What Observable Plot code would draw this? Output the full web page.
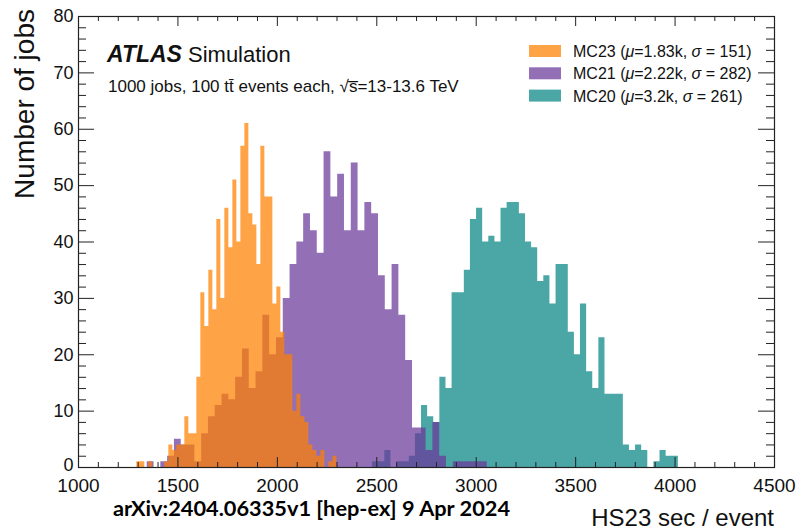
<!DOCTYPE html>
<html><head><meta charset="utf-8">
<script src="https://cdn.jsdelivr.net/npm/d3@7"></script>
<script src="https://cdn.jsdelivr.net/npm/@observablehq/plot@0.6"></script>
<style>html,body{margin:0;padding:0;background:#fff;}</style>
</head><body><div id="chart"></div>
<script>
// ---- data (counts per bin, 50 equal bins between the given edges) ----
const mc23Counts = [1,1,0,1,0,0,0,1,4,3,4,4,9,6,6,16,31,25,35,28,44,30,46,39,51,40,57,61,45,43,36,57,48,48,29,32,24,20,20,10,13,9,8,4,3,2,3,0,1,2];
const mc23Edges = [1293.3, 2299.3];
const mc21Counts = [1,0,1,2,5,4,4,1,6,9,11,13,12,16,21,14,17,27,20,23,30,36,40,45,42,38,56,48,52,42,54,42,47,45,34,28,36,27,19,7,7,3,8,2,0,1,1,1,1,1];
const mc21Edges = [1345.6, 3055.8];
const mc20Counts = [1,1,3,0,1,1,2,6,11,9,8,16,14,31,31,35,44,46,40,41,40,46,47,47,45,40,39,33,34,29,36,36,24,20,29,17,14,23,13,13,13,4,3,4,3,0,1,3,2,2];
const mc20Edges = [2478.9, 4016.6];

const seriesNames = ["MC23", "MC21", "MC20"];
const seriesMu = ["1.83k", "2.22k", "3.2k"];
const seriesSigma = ["151", "282", "261"];

const xMajor = [1000,1500,2000,2500,3000,3500,4000,4500];
const yMajor = [0,10,20,30,40,50,60,70,80];
const xMinor = d3.range(1000, 4501, 100).filter(v => v % 500 !== 0);
const yMinor = d3.range(0, 81, 2).filter(v => v % 10 !== 0);

// ---- styles ----
const colors = {MC23: "rgb(255,128,0)", MC21: "rgb(105,56,154)", MC20: "rgb(6,131,131)"};
const alpha = 0.72;
const W = 799, H = 530, mL = 78, mR = 25, mT = 16, mB = 63;
const fw = W - mL - mR, fh = H - mT - mB;
const axisColor = "#222";

function stepData(counts, edges) {
  const [lo, hi] = edges;
  const w = (hi - lo) / counts.length;
  const pts = counts.map((c, i) => ({x: lo + i * w, y: c}));
  pts.push({x: hi, y: counts[counts.length - 1]});
  return pts;
}

const svg = Plot.plot({
  width: W, height: H,
  marginLeft: mL, marginRight: mR, marginTop: mT, marginBottom: mB,
  x: {domain: [1000, 4500]},
  y: {domain: [0, 80]},
  style: {fontFamily: "'Liberation Sans', Arimo, Helvetica, Arial, sans-serif", fontSize: "19px", color: "#111", background: "#fff"},
  marks: [
    Plot.areaY(stepData(mc20Counts, mc20Edges), {x: "x", y: "y", curve: "step-after", fill: colors.MC20, fillOpacity: alpha}),
    Plot.areaY(stepData(mc21Counts, mc21Edges), {x: "x", y: "y", curve: "step-after", fill: colors.MC21, fillOpacity: alpha}),
    Plot.areaY(stepData(mc23Counts, mc23Edges), {x: "x", y: "y", curve: "step-after", fill: colors.MC23, fillOpacity: alpha}),
    // inward ticks, ROOT style, on all four sides
    Plot.ruleX(xMajor, {x: d => d, insetTop: fh - 10, stroke: axisColor}),
    Plot.ruleX(xMinor, {x: d => d, insetTop: fh - 5, stroke: axisColor}),
    Plot.ruleX(xMajor, {x: d => d, insetBottom: fh - 10, stroke: axisColor}),
    Plot.ruleX(xMinor, {x: d => d, insetBottom: fh - 5, stroke: axisColor}),
    Plot.ruleY(yMajor, {y: d => d, insetRight: fw - 16, stroke: axisColor}),
    Plot.ruleY(yMinor, {y: d => d, insetRight: fw - 8, stroke: axisColor}),
    Plot.ruleY(yMajor, {y: d => d, insetLeft: fw - 16, stroke: axisColor}),
    Plot.ruleY(yMinor, {y: d => d, insetLeft: fw - 8, stroke: axisColor}),
    Plot.frame({stroke: axisColor, strokeWidth: 1.2}),
    Plot.axisX({ticks: xMajor, tickSize: 0, tickPadding: 11, tickFormat: d => String(d), label: null}),
    Plot.axisY({ticks: yMajor.filter(d => d !== 0), tickSize: 0, tickPadding: 5, fontSize: 18, tickFormat: d => String(d), label: null}),
    Plot.axisY({ticks: [0], tickSize: 0, tickPadding: 5, fontSize: 18, dy: -2.5, tickFormat: d => String(d), label: null})
  ]
});
document.getElementById("chart").appendChild(svg);

const s = d3.select(svg);
const ff = "'Liberation Sans', Arimo, Helvetica, Arial, sans-serif";

// axis titles
s.append("text").attr("transform", "translate(34,9) rotate(-90)")
  .attr("text-anchor", "end").attr("font-size", 28).attr("font-family", ff).attr("fill", "#111")
  .text("Number of jobs");
s.append("text").attr("x", 774).attr("y", 526)
  .attr("text-anchor", "end").attr("font-size", 24).attr("font-family", ff).attr("fill", "#111")
  .text("HS23 sec / event");

// ATLAS label
s.append("text").attr("x", 107).attr("y", 61.5).attr("text-anchor", "start")
  .attr("font-size", 23).attr("font-family", ff).attr("font-weight", "bold").attr("font-style", "italic").attr("fill", "#111")
  .text("ATLAS");
s.append("text").attr("x", 188).attr("y", 61.5).attr("text-anchor", "start")
  .attr("font-size", 22).attr("font-family", ff).attr("fill", "#111")
  .text("Simulation");
s.append("text").attr("x", 108).attr("y", 92).attr("text-anchor", "start")
  .attr("font-size", 17).attr("font-family", ff).attr("fill", "#111")
  .text("1000 jobs, 100 t\u0074\u0304 events each, \u221As\u0305=13-13.6 TeV");

// legend
const legendColors = [colors.MC23, colors.MC21, colors.MC20];
seriesNames.forEach((name, i) => {
  const y0 = 45 + i * 22.3;
  s.append("rect").attr("x", 529).attr("y", y0).attr("width", 32).attr("height", 12)
    .attr("fill", legendColors[i]).attr("fill-opacity", alpha);
  const t = s.append("text").attr("x", 573).attr("y", y0 + 12).attr("text-anchor", "start")
    .attr("font-size", 16).attr("font-family", ff).attr("fill", "#111");
  t.append("tspan").text(name + " (");
  t.append("tspan").attr("font-style", "italic").text("\u03BC");
  t.append("tspan").text("=" + seriesMu[i] + ", ");
  t.append("tspan").attr("font-style", "italic").text("\u03C3");
  t.append("tspan").text(" = " + seriesSigma[i] + ")");
});

// source note
s.append("text").attr("x", 113).attr("y", 516).attr("text-anchor", "start")
  .attr("font-size", 21).attr("font-family", "Lato, 'Open Sans', sans-serif").attr("font-weight", "bold").attr("fill", "#000")
  .attr("textLength", 397).attr("lengthAdjust", "spacingAndGlyphs")
  .text("arXiv:2404.06335v1 [hep-ex] 9 Apr 2024");
</script></body></html>
